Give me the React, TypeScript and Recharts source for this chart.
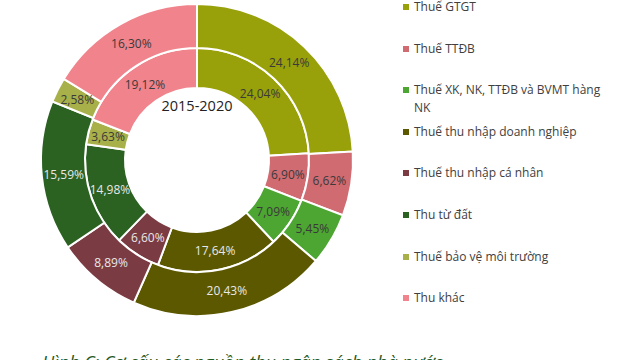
import React from "react";
import { PieChart, Pie, Cell, Legend } from "recharts";

const categories = [
  "Thuế GTGT",
  "Thuế TTĐB",
  "Thuế XK, NK, TTĐB và BVMT hàng NK",
  "Thuế thu nhập doanh nghiệp",
  "Thuế thu nhập cá nhân",
  "Thu từ đất",
  "Thuế bảo vệ môi trường",
  "Thu khác",
];

// 2015-2020 (inner ring)
const inner = [24.04, 6.9, 7.09, 17.64, 6.6, 14.98, 3.63, 19.12];
// 2021-T6/2024 (outer ring)
const outer = [24.14, 6.62, 5.45, 20.43, 8.89, 15.59, 2.58, 16.3];

const colors = [
  "#98A00A",
  "#D16B72",
  "#4DA532",
  "#5C5800",
  "#7B3B42",
  "#2B6121",
  "#A8B04A",
  "#F0838B",
];
const lightText = [false, false, false, true, true, true, false, false];

const innerData = categories.map((name, i) => ({ name, value: inner[i] }));
const outerData = categories.map((name, i) => ({ name, value: outer[i] }));

const FONT = "'Open Sans', sans-serif";
const RAD = Math.PI / 180;

const renderLabel = (props: any) => {
  const { cx, cy, midAngle, innerRadius, outerRadius, index, value } = props;
  const r = (innerRadius + outerRadius) / 2;
  const x = cx + r * Math.cos(-midAngle * RAD);
  const y = cy + r * Math.sin(-midAngle * RAD);
  return (
    <text
      x={x}
      y={y}
      textAnchor="middle"
      dominantBaseline="central"
      fontSize={12}
      fontFamily={FONT}
      fill={lightText[index] ? "#E8E8E8" : "#3A3A3A"}
    >
      {value.toFixed(2).replace(".", ",")}%
    </text>
  );
};

const renderLegend = () => (
  <div style={{ position: "relative", width: 200, height: 310, fontFamily: FONT }}>
    {categories.map((c, i) => (
      <div
        key={c}
        style={{
          position: "absolute",
          top: i * 41.6 - 2,
          left: 0,
          display: "flex",
          alignItems: "flex-start",
          fontSize: 12,
          lineHeight: "18px",
          color: "#404040",
          width: 200,
        }}
      >
        <span
          style={{
            display: "inline-block",
            width: 6,
            height: 6,
            marginTop: 6,
            marginRight: 5,
            background: colors[i],
            flexShrink: 0,
          }}
        />
        <span>{c}</span>
      </div>
    ))}
  </div>
);

export default function App() {
  return (
    <div
      style={{
        position: "absolute",
        left: 0,
        top: 0,
        width: 640,
        height: 360,
        overflow: "hidden",
        background: "#fff",
      }}
    >
      <PieChart width={640} height={360} margin={{ top: 0, right: 0, bottom: 0, left: 0 }}>
        <Pie
          data={innerData}
          dataKey="value"
          cx={197}
          cy={160}
          innerRadius={72}
          outerRadius={112}
          startAngle={90}
          endAngle={-270}
          stroke="#fff"
          strokeWidth={2}
          label={renderLabel}
          labelLine={false}
          isAnimationActive={false}
        >
          {innerData.map((d, i) => (
            <Cell key={d.name} fill={colors[i]} />
          ))}
        </Pie>
        <Pie
          data={outerData}
          dataKey="value"
          cx={197}
          cy={160}
          innerRadius={112}
          outerRadius={156}
          startAngle={90}
          endAngle={-270}
          stroke="#fff"
          strokeWidth={2}
          label={renderLabel}
          labelLine={false}
          isAnimationActive={false}
        >
          {outerData.map((d, i) => (
            <Cell key={d.name} fill={colors[i]} />
          ))}
        </Pie>
        <text x={197} y={105} textAnchor="middle" dominantBaseline="central" fontSize={14.5} fontFamily={FONT} fill="#222">
          2015-2020
        </text>
        <text x={197} y={-1} textAnchor="middle" fontSize={14.5} fontFamily={FONT} fill="#222">
          2021-T6/2024
        </text>
        <Legend
          layout="vertical"
          verticalAlign="top"
          align="right"
          content={renderLegend}
          wrapperStyle={{ left: 403, right: "auto", top: 0, width: 200 }}
        />
      </PieChart>
      <div
        style={{
          position: "absolute",
          left: 42,
          top: 353,
          fontFamily: FONT,
          fontStyle: "italic",
          fontSize: 18,
          lineHeight: 1,
          color: "#1F5A1F",
          whiteSpace: "nowrap",
        }}
      >
        Hình C: Cơ cấu các nguồn thu ngân sách nhà nước
      </div>
    </div>
  );
}
